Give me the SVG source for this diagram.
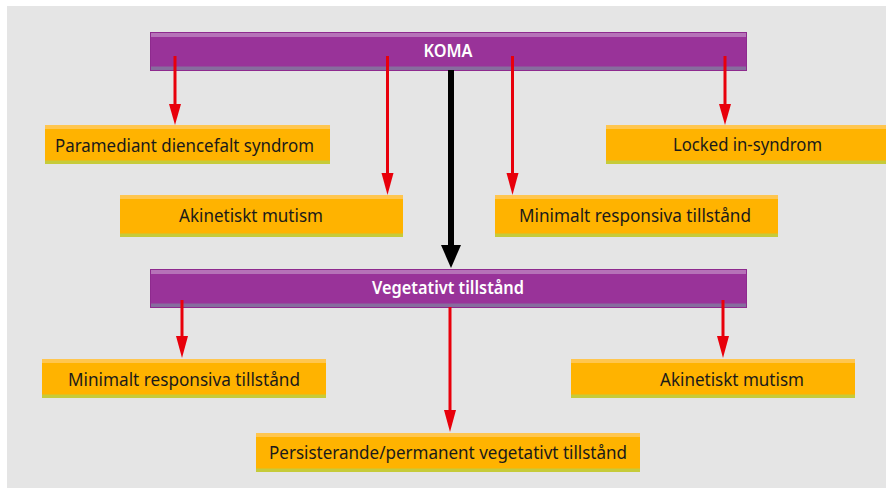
<svg xmlns="http://www.w3.org/2000/svg" width="886" height="488" viewBox="0 0 886 488">
<defs>
<style>
.bg{fill:#e5e5e5}
.pb{fill:#993399;stroke:#8e2a8e;stroke-width:1}
.pt{fill:#b672b8}
.pbot{fill:#876c9e}
.ob{fill:#ffb300}
.ot{fill:#ffc64f}
.obot{fill:#c6cb3a}
.t{font-family:"Noto Sans","Open Sans","Liberation Sans",sans-serif;font-size:18px;fill:#1a1a1a}
.w{font-family:"Noto Sans","Open Sans","Liberation Sans",sans-serif;font-size:17.5px;font-weight:600;fill:#ffffff}
.rl{stroke:#e8000b;stroke-width:3;fill:none}
.rh{fill:#e8000b}
.bl{stroke:#000;stroke-width:6;fill:none}
</style>
</defs>
<rect class="bg" x="7" y="6" width="879" height="482"/>

<g id="koma">
<rect class="pb" x="150.5" y="32.5" width="596" height="38"/>
<rect class="pt" x="151" y="33" width="595" height="4"/>
<rect class="pbot" x="151" y="66.5" width="595" height="3.5"/>
<text class="w" x="448" y="57" text-anchor="middle" textLength="49" lengthAdjust="spacingAndGlyphs">KOMA</text>
</g>

<g id="paramediant">
<rect class="ob" x="45" y="125" width="285" height="39"/>
<rect class="ot" x="45" y="125" width="285" height="4"/>
<rect class="obot" x="45" y="160.5" width="285" height="3.5"/>
<text class="t" x="55" y="151.5" textLength="259" lengthAdjust="spacingAndGlyphs">Paramediant diencefalt syndrom</text>
</g>

<g id="locked">
<rect class="ob" x="606" y="125" width="280" height="39"/>
<rect class="ot" x="606" y="125" width="280" height="4"/>
<rect class="obot" x="606" y="160.5" width="280" height="3.5"/>
<text class="t" x="673" y="151" textLength="149" lengthAdjust="spacingAndGlyphs">Locked in-syndrom</text>
</g>

<g id="akinetiskt1">
<rect class="ob" x="120" y="195" width="283" height="42"/>
<rect class="ot" x="120" y="195" width="283" height="4"/>
<rect class="obot" x="120" y="233.5" width="283" height="3.5"/>
<text class="t" x="179" y="221.5" textLength="144" lengthAdjust="spacingAndGlyphs">Akinetiskt mutism</text>
</g>

<g id="minimalt1">
<rect class="ob" x="495" y="195" width="283" height="42"/>
<rect class="ot" x="495" y="195" width="283" height="4"/>
<rect class="obot" x="495" y="233.5" width="283" height="3.5"/>
<text class="t" x="519" y="221.5" textLength="232" lengthAdjust="spacingAndGlyphs">Minimalt responsiva tillstånd</text>
</g>

<g id="vegetativt">
<rect class="pb" x="150.5" y="269.5" width="596" height="38"/>
<rect class="pt" x="151" y="270" width="595" height="4"/>
<rect class="pbot" x="151" y="303.5" width="595" height="3.5"/>
<text class="w" x="448" y="294" text-anchor="middle" textLength="152" lengthAdjust="spacingAndGlyphs">Vegetativt tillstånd</text>
</g>

<g id="minimalt2">
<rect class="ob" x="42" y="359" width="284" height="39"/>
<rect class="ot" x="42" y="359" width="284" height="4"/>
<rect class="obot" x="42" y="394.5" width="284" height="3.5"/>
<text class="t" x="68" y="385.5" textLength="232" lengthAdjust="spacingAndGlyphs">Minimalt responsiva tillstånd</text>
</g>

<g id="akinetiskt2">
<rect class="ob" x="571" y="359" width="284" height="39"/>
<rect class="ot" x="571" y="359" width="284" height="4"/>
<rect class="obot" x="571" y="394.5" width="284" height="3.5"/>
<text class="t" x="660" y="385.5" textLength="144" lengthAdjust="spacingAndGlyphs">Akinetiskt mutism</text>
</g>

<g id="persisterande">
<rect class="ob" x="256" y="433" width="384" height="39"/>
<rect class="ot" x="256" y="433" width="384" height="4"/>
<rect class="obot" x="256" y="468.5" width="384" height="3.5"/>
<text class="t" x="269" y="458.5" textLength="358" lengthAdjust="spacingAndGlyphs">Persisterande/permanent vegetativt tillstånd</text>
</g>

<g id="connectors">
<line class="rl" x1="175" y1="56" x2="175" y2="106"/>
<polygon class="rh" points="169,104 181,104 175,125"/>
<line class="rl" x1="387.5" y1="56" x2="387.5" y2="175"/>
<polygon class="rh" points="381.5,173 393.5,173 387.5,195"/>
<line class="rl" x1="512.5" y1="56" x2="512.5" y2="175"/>
<polygon class="rh" points="506.5,173 518.5,173 512.5,195"/>
<line class="rl" x1="725" y1="56" x2="725" y2="106"/>
<polygon class="rh" points="719,104 731,104 725,125"/>
<line class="bl" x1="451" y1="70" x2="451" y2="247"/>
<polygon points="441,245 461,245 451,268" fill="#000"/>
<line class="rl" x1="182" y1="300" x2="182" y2="338"/>
<polygon class="rh" points="176,336 188,336 182,358"/>
<line class="rl" x1="723" y1="300" x2="723" y2="338"/>
<polygon class="rh" points="717,336 729,336 723,358"/>
<line class="rl" x1="450" y1="307" x2="450" y2="412"/>
<polygon class="rh" points="444,410 456,410 450,432"/>
</g>
</svg>
